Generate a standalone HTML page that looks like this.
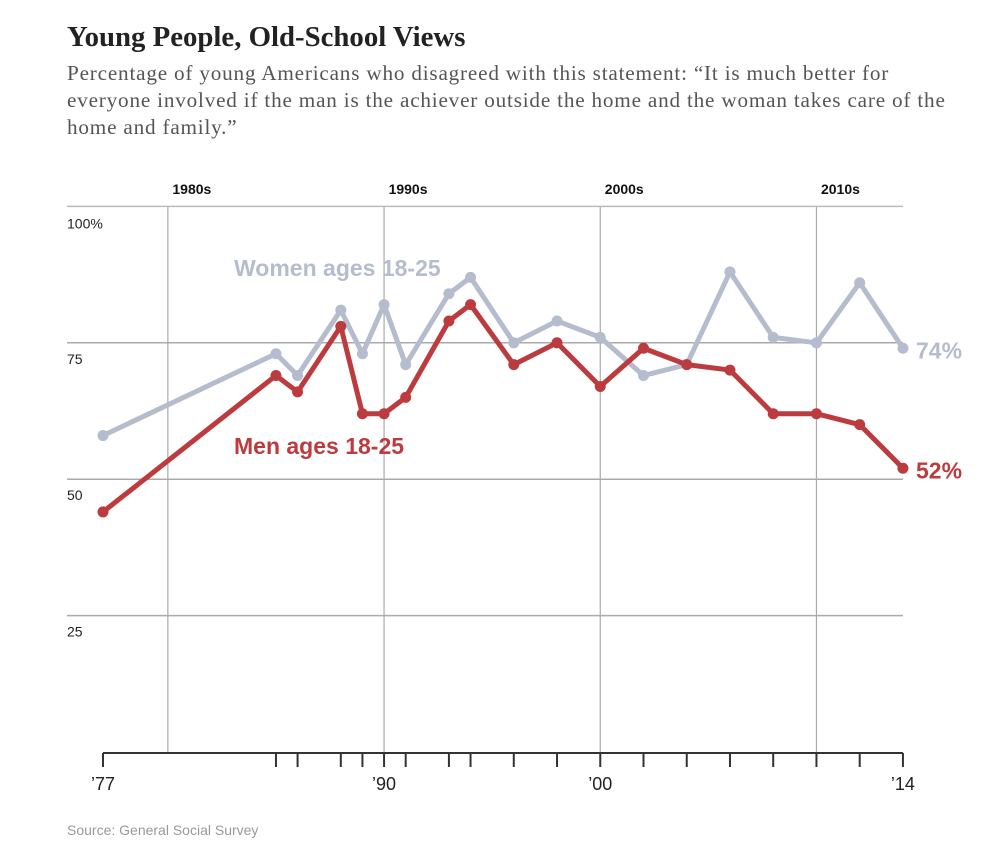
<!DOCTYPE html>
<html><head><meta charset="utf-8"><style>
body{margin:0;background:#fff;width:981px;height:855px;overflow:hidden;position:relative;font-family:"Liberation Sans",sans-serif}
#title{position:absolute;left:67px;top:21px;font-family:"Liberation Serif",serif;font-weight:bold;font-size:28.8px;color:#222;margin:0}
#sub{position:absolute;left:67px;top:60px;width:910px;font-family:"Liberation Serif",serif;font-size:21.2px;letter-spacing:0.8px;line-height:27px;color:#555;white-space:nowrap}
#src{position:absolute;left:67px;top:822px;font-size:14px;color:#999}
svg{position:absolute;left:0;top:0}
</style></head><body>
<h1 id="title">Young People, Old-School Views</h1>
<div id="sub">Percentage of young Americans who disagreed with this statement: “It is much better for<br>everyone involved if the man is the achiever outside the home and the woman takes care of the<br>home and family.”</div>
<div id="src">Source: General Social Survey</div>
<svg id="chart" width="981" height="855"></svg>
<script>
const years=[1977,1985,1986,1988,1989,1990,1991,1993,1994,1996,1998,2000,2002,2004,2006,2008,2010,2012,2014];
const women=[58,73,69,81,73,82,71,84,87,75,79,76,69,71,88,76,75,86,74];
const men=[44,69,66,78,62,62,65,79,82,71,75,67,74,71,70,62,62,60,52];
const yTicks=[100,75,50,25];
const yTickLabels=["100%","75","50","25"];
const decades=[1980,1990,2000,2010];
const xLabelYears=[1977,1990,2000,2014];
const xLabels=["’77","’90","’00","’14"];
const NS="http://www.w3.org/2000/svg";
const svg=document.getElementById('chart');
const x=y=>103+(y-1977)*21.62;
const yS=v=>752-v*5.456;
function mk(t,a){const e=document.createElementNS(NS,t);for(const k in a)e.setAttribute(k,a[k]);svg.appendChild(e);return e;}
yTicks.forEach((v,i)=>{
  const l=mk('line',{x1:67,x2:903,y1:yS(v),y2:yS(v),stroke:i==0?'#bbb':'#aaa','stroke-width':1.5});
  
  
  const t=mk('text',{x:67,y:yS(v)+(i==0?22:21),'font-size':14,fill:'#222'});t.textContent=yTickLabels[i];
  
  
});
decades.forEach(d=>{
  const l=mk('line',{x1:x(d),x2:x(d),y1:207,y2:752,stroke:'#aaa','stroke-width':1.2});
  
  
  const t=mk('text',{x:x(d)+24,y:194,'font-size':14,'font-weight':'bold','text-anchor':'middle',fill:'#111'});t.textContent=d+'s';
  
  
});
const ax=mk('line',{x1:x(1977),x2:x(2014),y1:753,y2:753,stroke:'#333','stroke-width':2});


years.forEach(y=>{const t=mk('line',{x1:x(y),x2:x(y),y1:753,y2:767,stroke:'#333','stroke-width':2});
  
  });
xLabelYears.forEach((y,i)=>{const t=mk('text',{x:x(y),y:790,'font-size':18,'text-anchor':'middle',fill:'#222'});t.textContent=xLabels[i];
  
  });
function series(vals,col,name){
  const p=mk('polyline',{points:vals.map((v,i)=>x(years[i])+','+yS(v)).join(' '),fill:'none',stroke:col,'stroke-width':5,'stroke-linejoin':'round'});
  
  
  vals.forEach((v,i)=>{const c=mk('circle',{cx:x(years[i]),cy:yS(v),r:5.5,fill:col});
    
    });
  const e=mk('text',{x:916,y:yS(vals[vals.length-1])+10,'font-size':23,'font-weight':'bold',fill:col});e.textContent=vals[vals.length-1]+'%';
  
  
}
series(women,'#b5bccd','women');
series(men,'#bc3b3f','men');
const lw=mk('text',{x:234,y:276,'font-size':23,'font-weight':'bold',fill:'#b5bccd'});lw.textContent='Women ages 18-25';


const lm=mk('text',{x:234,y:454,'font-size':23,'font-weight':'bold',fill:'#bc3b3f'});lm.textContent='Men ages 18-25';


</script>
</body></html>
